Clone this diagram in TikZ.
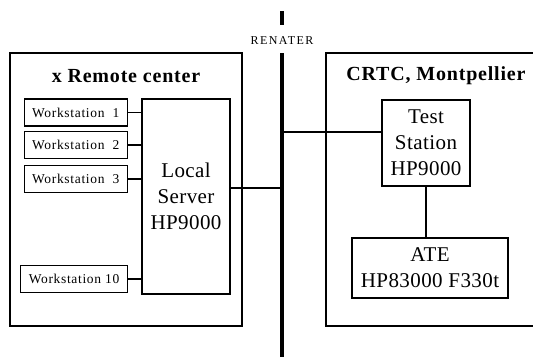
\documentclass[tikz,border=0pt]{standalone}
\usepackage{fontspec}
\setmainfont{Liberation Serif}
\begin{document}
\begin{tikzpicture}[
  x=1pt, y=-1pt,
  box/.style={draw, line width=1.2pt},
  wsbox/.style={box, anchor=east, minimum height=27pt, inner xsep=8pt, inner ysep=0pt, font=\fontsize{13.5}{15}\selectfont\addfontfeature{LetterSpace=5}},
  hostbox/.style={box, align=center, inner sep=0pt, font=\fontsize{21}{26}\selectfont\addfontfeature{LetterSpace=2}},
  title/.style={font=\fontsize{20}{24}\selectfont\bfseries\addfontfeature{LetterSpace=4}},
  link/.style={draw, line width=1.2pt},
  bus/.style={draw, line width=3.6pt}
]
\useasboundingbox (0,0) rectangle (533,357);

% the two sites
\draw[box] (10,53) rectangle (242,326);
\draw[box] (540,53) -| (326,326) -- (540,326);
\node[title] (remote) at (126,76) {x Remote center};
\node[title] (crtc) at (436,76) {CRTC, Montpellier};

% RENATER backbone
\coordinate (bushead) at (282,11);
\coordinate (busneck) at (282,25);
\coordinate (bustop) at (282,53);
\coordinate (busend) at (282,357);
\draw[bus] (bushead) -- (busneck);
\draw[bus] (bustop) -- (busend);
\node[font=\fontsize{12}{14}\selectfont\addfontfeature{LetterSpace=12}] (renater) at (282,41) {RENATER};

% remote center
\node[hostbox, minimum width=88pt, minimum height=195pt] (server) at (186,196.5) {Local\\Server\\HP9000};
\node[wsbox] (ws1) at (128,112.5) {Workstation\ \ 1};
\node[wsbox] (ws2) at (128,145) {Workstation\ \ 2};
\node[wsbox] (ws3) at (128,179) {Workstation\ \ 3};
\node[wsbox] (ws10) at (128,279) {Workstation 10};
\foreach \w in {ws1,ws2,ws3,ws10}
  \draw[link] (\w.east) -- (\w.east -| server.west);
\coordinate (srvtap) at (282,188);
\draw[link] (srvtap -| server.east) -- (srvtap);

% CRTC
\node[hostbox, minimum width=88pt, minimum height=86pt] (test) at (426,143) {Test\\Station\\HP9000};
\node[hostbox, minimum width=156pt, minimum height=60pt] (ate) at (430,268) {ATE\\HP83000 F330t};
\coordinate (testtap) at (282,132);
\draw[link] (testtap) -- (testtap -| test.west);
\draw[link] (test.south) -- (test.south |- ate.north);
\end{tikzpicture}
\end{document}
